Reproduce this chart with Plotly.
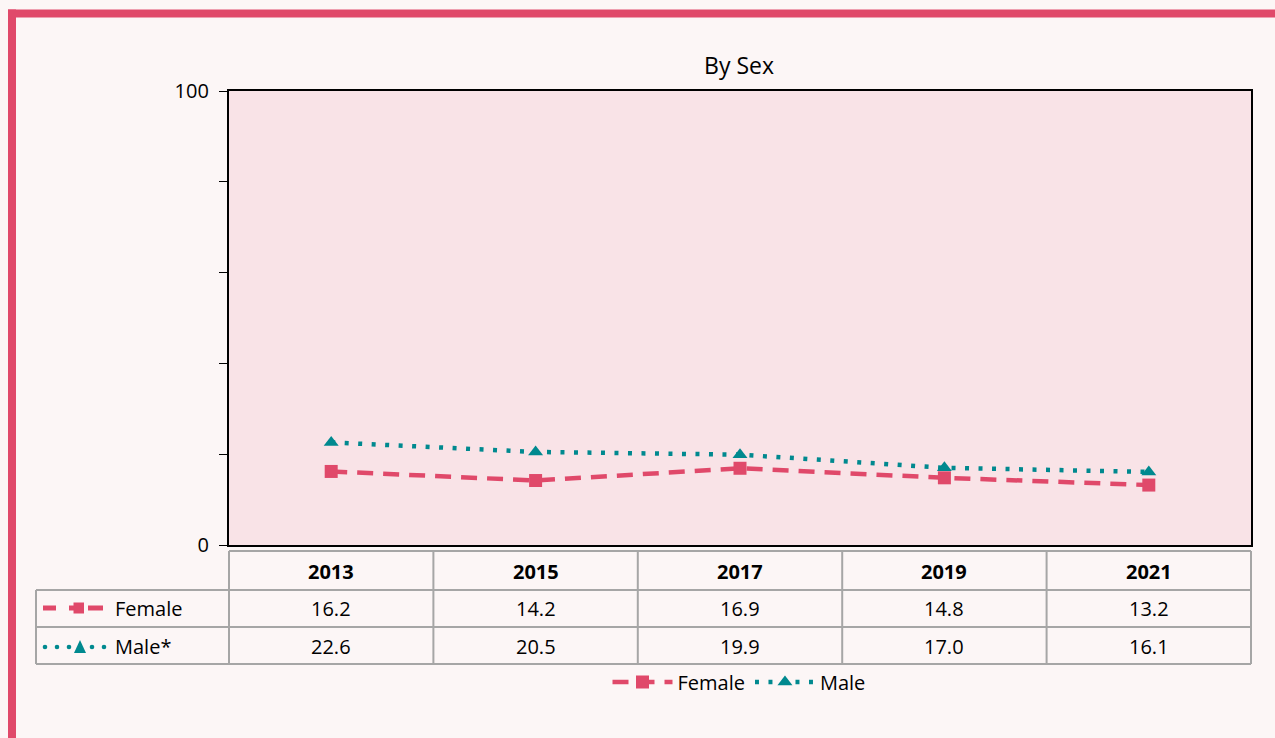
import plotly.graph_objects as go

years = ["2013", "2015", "2017", "2019", "2021"]
female = [16.2, 14.2, 16.9, 14.8, 13.2]
male = [22.6, 20.5, 19.9, 17.0, 16.1]
row_labels = ["Female", "Male*"]
legend_names = ["Female", "Male"]
title = "By Sex"

W, H = 1275, 738
L, R, T, B = 229, 1251, 91, 545
PINK = "#E0496A"
TEAL = "#00898F"
GRID = "#A6A6A6"
FONT = "Open Sans"
FS = 20


def px(x):
    return (x - L) / (R - L)


def py(y):
    return (B - y) / (B - T)


fig = go.Figure()
fig.add_trace(go.Scatter(
    x=years, y=female, name=legend_names[0], mode="lines+markers",
    line=dict(color=PINK, width=4.5, dash="16px,10px"),
    marker=dict(symbol="square", size=13, color=PINK),
))
fig.add_trace(go.Scatter(
    x=years, y=male, name=legend_names[1], mode="lines+markers",
    line=dict(color=TEAL, width=4.5, dash="4px,9.5px"),
    marker=dict(symbol="triangle-up", size=13, color=TEAL),
))

shapes = []
# outer frame
shapes.append(dict(type="line", xref="paper", yref="paper", x0=px(8), x1=px(1300), y0=py(13.5), y1=py(13.5),
                   line=dict(color=PINK, width=8)))
shapes.append(dict(type="line", xref="paper", yref="paper", x0=px(12), x1=px(12), y0=py(9.5), y1=py(760),
                   line=dict(color=PINK, width=8)))

# table grid
cols = [229, 433.4, 637.8, 842.2, 1046.6, 1251]
rows = [551, 590, 627, 664]
for cx in cols:
    shapes.append(dict(type="line", xref="paper", yref="paper", x0=px(cx), x1=px(cx), y0=py(551), y1=py(664),
                       line=dict(color=GRID, width=2)))
shapes.append(dict(type="line", xref="paper", yref="paper", x0=px(36), x1=px(36), y0=py(590), y1=py(664),
                   line=dict(color=GRID, width=2)))
shapes.append(dict(type="line", xref="paper", yref="paper", x0=px(229), x1=px(1251), y0=py(551), y1=py(551),
                   line=dict(color=GRID, width=2)))
for ry in rows[1:]:
    shapes.append(dict(type="line", xref="paper", yref="paper", x0=px(36), x1=px(1251), y0=py(ry), y1=py(ry),
                       line=dict(color=GRID, width=2)))

# row legend icons
fy = 608
for a, b in [(43, 56), (69, 75), (88, 103)]:
    shapes.append(dict(type="line", xref="paper", yref="paper", x0=px(a), x1=px(b), y0=py(fy), y1=py(fy),
                       line=dict(color=PINK, width=5)))
shapes.append(dict(type="rect", xref="paper", yref="paper", x0=px(73.5), x1=px(84), y0=py(fy - 5.5), y1=py(fy + 5.5),
                   line=dict(width=0), fillcolor=PINK))
my = 647
for dx in [45, 57, 69, 92, 104]:
    shapes.append(dict(type="circle", xref="paper", yref="paper", x0=px(dx - 2.3), x1=px(dx + 2.3),
                       y0=py(my - 2.3), y1=py(my + 2.3), line=dict(width=0), fillcolor=TEAL))
shapes.append(dict(type="path", xref="paper", yref="paper",
                   path=f"M {px(74)} {py(my + 6)} L {px(86)} {py(my + 6)} L {px(80)} {py(my - 7)} Z",
                   line=dict(width=0), fillcolor=TEAL))

annotations = []
tfont = dict(size=FS, color="black", family=FONT)
for i, yr in enumerate(years):
    annotations.append(dict(x=i, xref="x", y=py(571), yref="paper", text=f"<b>{yr}</b>", showarrow=False,
                            xanchor="center", yanchor="middle", font=tfont))
for i, v in enumerate(female):
    annotations.append(dict(x=i, xref="x", y=py(608), yref="paper", text=f"{v:.1f}", showarrow=False,
                            xanchor="center", yanchor="middle", font=tfont))
for i, v in enumerate(male):
    annotations.append(dict(x=i, xref="x", y=py(646), yref="paper", text=f"{v:.1f}", showarrow=False,
                            xanchor="center", yanchor="middle", font=tfont))
annotations.append(dict(x=px(113), xref="paper", y=py(608), yref="paper", text=row_labels[0], showarrow=False,
                        xanchor="left", yanchor="middle", font=tfont))
annotations.append(dict(x=px(113), xref="paper", y=py(646), yref="paper", text=row_labels[1], showarrow=False,
                        xanchor="left", yanchor="middle", font=tfont))

fig.update_layout(
    width=W, height=H,
    margin=dict(l=L, r=W - R, t=T, b=H - B, pad=0),
    paper_bgcolor="#FCF6F6",
    plot_bgcolor="#F9E3E7",
    font=dict(family=FONT, color="black", size=FS),
    title=dict(text=title, x=px(739), xref="paper", xanchor="center", y=1 - 66 / H, yanchor="middle",
               font=dict(size=23, color="black", family=FONT)),
    showlegend=True,
    legend=dict(orientation="h", x=px(739), xanchor="center", y=py(682), yanchor="middle",
                bgcolor="rgba(0,0,0,0)", font=dict(size=FS, family=FONT), itemwidth=60,
                tracegroupgap=0),
    shapes=shapes,
    annotations=annotations,
    xaxis=dict(type="category", range=[-0.5, 4.5], showticklabels=False, showgrid=False, zeroline=False,
               showline=True, linecolor="black", linewidth=2.3, mirror=True, ticks=""),
    yaxis=dict(range=[0, 100], tickmode="array", tickvals=[0, 100], ticktext=["0", "100"],
               ticks="outside", ticklen=8, tickcolor="black", tickwidth=1.3,
               minor=dict(tickvals=[20, 40, 60, 80], ticks="outside", ticklen=8, tickcolor="black", tickwidth=1.3),
               showgrid=False, zeroline=False, showline=True, linecolor="black", linewidth=2.3, mirror=True,
               ticklabelstandoff=6,
               tickfont=dict(size=20, family=FONT)),
)

fig.write_html("out.html", config={"displayModeBar": False},
               post_script="document.body.style.margin='0';document.body.style.background='#FCF6F6';")
